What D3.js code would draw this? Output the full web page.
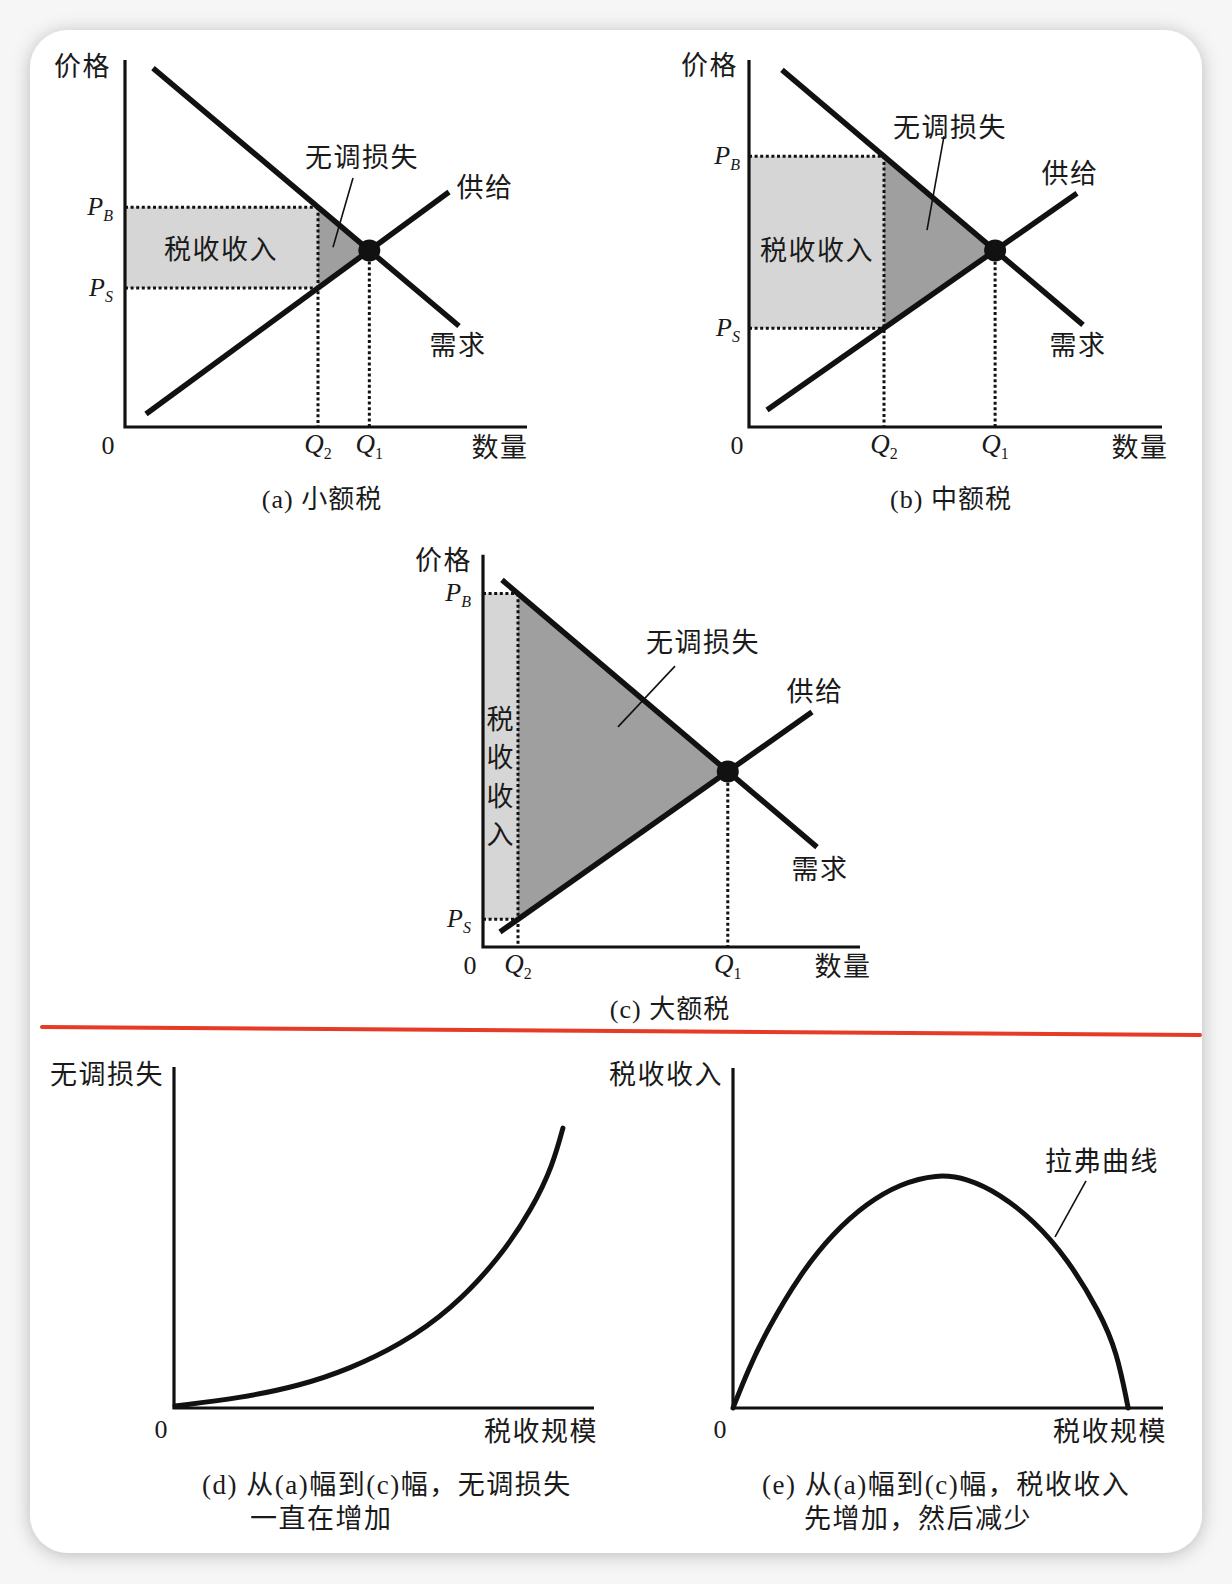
<!DOCTYPE html>
<html><head><meta charset="utf-8">
<script src="https://cdn.jsdelivr.net/npm/d3@7"></script>
<style>
body{margin:0;background:#f6f6f6;}
svg{display:block;}
</style></head><body>
<svg id="chart" width="1232" height="1584"></svg>
<script>
// ---------- DATA (economic units, 0..100) ----------
const captions = ["(a) 小额税", "(b) 中额税", "(c) 大额税"];
const demandA = [[7, 97], [83.5, 27.3]];
const supplyA = [[5.25, 3.5], [81, 63.5]];
const taxQtyA = 48.25;
const demandB = [[8.25, 96.5], [83.5, 27.6]];
const supplyB = [[4.5, 4.6], [82, 63.2]];
const taxQtyB = 33.75;
const demandC = [[4.75, 99.2], [83.5, 27]];
const supplyC = [[4.25, 4.05], [82.25, 63.5]];
const taxQtyC = 8.75;
const leaderA = [[57, 67.3], [52, 48.6]];
const leaderB = [[48.75, 78.6], [44.5, 53.2]];
const leaderC = [[48, 75.9], [33.75, 59.5]];

// (d) deadweight loss vs tax size
const dwlX = [0.24, 15.7, 30, 41.9, 53.8, 65.7, 77.6, 85.5, 90.2, 92.6];
const dwlY = [0.59, 2.9, 6.5, 11.5, 18.5, 28.5, 44, 58.9, 71.3, 82.1];
// (e) Laffer curve: tax revenue vs tax size
const lafX = [0, 3.5, 7.9, 15.6, 23.3, 31.2, 38.8, 47.4, 54.4, 62.1, 69.8, 77.7, 85.3, 89.3, 91.9];
const lafY = [0, 11.2, 22.9, 39.4, 51.5, 60.3, 65.9, 68.8, 67.6, 62.9, 55.3, 44.1, 28.2, 16.5, 0];
const lafLeader = [[82.1, 66.8], [74.9, 50.3]];

const axisLabelsTop = {price: "价格", qty: "数量", dwl: "无调损失", supply: "供给", demand: "需求", revenue: "税收收入"};
const captionD = ["(d) 从(a)幅到(c)幅，无调损失", "一直在增加"];
const captionE = ["(e) 从(a)幅到(c)幅，税收收入", "先增加，然后减少"];
const bottomAxis = {d: "无调损失", e: "税收收入", x: "税收规模", laffer: "拉弗曲线"};

// ---------- STYLE ----------
const MIXED = "'Liberation Serif','Noto Sans CJK SC','Noto Sans CJK JP',serif";
const SERIF = "'Liberation Serif','DejaVu Serif',serif";
const FS = 27;

const svg = d3.select("#chart");
const defs = svg.append("defs");
const flt = defs.append("filter").attr("id", "shadow").attr("x", "-5%").attr("y", "-5%").attr("width", "110%").attr("height", "110%");
flt.append("feDropShadow").attr("dx", 0).attr("dy", 2).attr("stdDeviation", 9).attr("flood-color", "#000").attr("flood-opacity", 0.25);
svg.append("rect").attr("x", 30).attr("y", 30).attr("width", 1172).attr("height", 1523).attr("rx", 38).attr("fill", "#fff").attr("filter", "url(#shadow)");

function mixed(g, x, yc, str, size, anchor, ls) {
  return g.append("text").attr("x", x).attr("y", yc + size * 0.37)
    .attr("font-family", MIXED).attr("font-size", size).attr("text-anchor", anchor || "middle").attr("fill", "#1a1a1a")
    .attr("letter-spacing", ls == null ? 1.5 : ls).text(str);
}
function subLabel(g, x, yc, main, sub, subItalic, anchor, size) {
  size = size || 26;
  const t = g.append("text").attr("x", x).attr("y", yc + size * 0.3)
    .attr("font-family", SERIF).attr("font-size", size).attr("text-anchor", anchor).attr("fill", "#1a1a1a");
  t.append("tspan").attr("font-style", "italic").text(main);
  t.append("tspan").attr("font-size", 16).attr("dy", 6).attr("font-style", subItalic ? "italic" : "normal").text(sub);
}
function lineAt(l, x) { const [[x1, y1], [x2, y2]] = l; return y1 + (y2 - y1) * (x - x1) / (x2 - x1); }
function intersect(d, s) {
  const md = (d[1][1] - d[0][1]) / (d[1][0] - d[0][0]);
  const ms = (s[1][1] - s[0][1]) / (s[1][0] - s[0][0]);
  const x = (s[0][1] - ms * s[0][0] - d[0][1] + md * d[0][0]) / (md - ms);
  return [x, lineAt(d, x)];
}

const panels = [
  {demand: demandA, supply: supplyA, q2: taxQtyA, leader: leaderA, ox: 125, oy: 427, yMax: 99.2, xMax: 100.5,
   lab: {price: [111, 66], dwl: [362, 157], supply: [485, 187], demand: [458, 345], revenue: [221, 249], zero: [108, 445], qty: [500, 447], cap: [322, 498], pEnd: 113, qY: 445}},
  {demand: demandB, supply: supplyB, q2: taxQtyB, leader: leaderB, ox: 749, oy: 427, yMax: 99.2, xMax: 103.25,
   lab: {price: [738, 65], dwl: [950, 127], supply: [1070, 173], demand: [1078, 345], revenue: [817, 250], zero: [737, 445], qty: [1140, 447], cap: [951, 498], pEnd: 740, qY: 445}},
  {demand: demandC, supply: supplyC, q2: taxQtyC, leader: leaderC, ox: 483, oy: 947, yMax: 106, xMax: 94.25, vertical: true,
   lab: {price: [472, 560], dwl: [703, 642], supply: [815, 691], demand: [820, 869], revenue: [500, 719], zero: [470, 965], qty: [843, 966], cap: [670, 1008], pEnd: 471, qY: 965}}
];

const line = d3.line();
panels.forEach((p, i) => {
  const g = svg.append("g");
  const x = d3.scaleLinear().domain([0, 100]).range([p.ox, p.ox + 400]);
  const y = d3.scaleLinear().domain([0, 100]).range([p.oy, p.oy - 370]);
  const pb = lineAt(p.demand, p.q2), ps = lineAt(p.supply, p.q2);
  const eq = intersect(p.demand, p.supply);
  // fills
  g.append("path").attr("d", line([[0, ps], [p.q2, ps], [p.q2, pb], [0, pb]].map(d => [x(d[0]), y(d[1])])))
    .attr("fill", "#d6d6d6");
  g.append("path").attr("d", line([[p.q2, pb], [p.q2, ps], eq].map(d => [x(d[0]), y(d[1])])))
    .attr("fill", "#9f9f9f");
  // dotted guides
  const dots = [[[0, pb], [p.q2, pb]], [[0, ps], [p.q2, ps]], [[p.q2, pb], [p.q2, 0]], [[eq[0], eq[1]], [eq[0], 0]]];
  dots.forEach(seg => g.append("path").attr("d", line(seg.map(d => [x(d[0]), y(d[1])])))
    .attr("stroke", "#111").attr("stroke-width", 3).attr("stroke-dasharray", "3 2.6").attr("fill", "none"));
  // curves
  [p.demand, p.supply].forEach(l => g.append("path").attr("d", line(l.map(d => [x(d[0]), y(d[1])])))
    .attr("stroke", "#111").attr("stroke-width", 5.5).attr("fill", "none"));
  // axes
  g.append("path").attr("d", line([[0, p.yMax], [0, 0], [p.xMax, 0]].map(d => [x(d[0]), y(d[1])])))
    .attr("stroke", "#111").attr("stroke-width", 3.2).attr("fill", "none");
  // equilibrium
  g.append("circle").attr("cx", x(eq[0])).attr("cy", y(eq[1])).attr("r", 11).attr("fill", "#111");
  // leader
  g.append("path").attr("d", line(p.leader.map(d => [x(d[0]), y(d[1])])))
    .attr("stroke", "#111").attr("stroke-width", 1.6).attr("fill", "none");
  // labels
  const L = p.lab;
  mixed(g, L.price[0], L.price[1], axisLabelsTop.price, FS, "end");
  mixed(g, L.dwl[0], L.dwl[1], axisLabelsTop.dwl, FS, "middle");
  mixed(g, L.supply[0], L.supply[1], axisLabelsTop.supply, FS, "middle");
  mixed(g, L.demand[0], L.demand[1], axisLabelsTop.demand, FS, "middle");
  if (p.vertical) {
    Array.from(axisLabelsTop.revenue).forEach((ch, k) => mixed(g, L.revenue[0], L.revenue[1] + k * 38.5, ch, FS, "middle", 0));
  } else {
    mixed(g, L.revenue[0], L.revenue[1], axisLabelsTop.revenue, FS, "middle");
  }
  mixed(g, L.qty[0], L.qty[1], axisLabelsTop.qty, FS, "middle");
  g.append("text").attr("x", L.zero[0]).attr("y", L.zero[1] + 9).attr("font-family", SERIF).attr("font-size", 26)
    .attr("text-anchor", "middle").attr("fill", "#1a1a1a").text("0");
  subLabel(g, L.pEnd, y(pb), "P", "B", true, "end");
  subLabel(g, L.pEnd, y(ps), "P", "S", true, "end");
  subLabel(g, x(p.q2), L.qY, "Q", "2", false, "middle", 27);
  subLabel(g, x(eq[0]), L.qY, "Q", "1", false, "middle", 27);
  mixed(g, L.cap[0], L.cap[1], captions[i], 26, "middle", 1);
});

// red divider
svg.append("line").attr("x1", 42).attr("y1", 1027).attr("x2", 1200).attr("y2", 1035)
  .attr("stroke", "#e63b27").attr("stroke-width", 4).attr("stroke-linecap", "round");

// ---------- panels d and e ----------
function curvePanel(cfg) {
  const g = svg.append("g");
  const x = d3.scaleLinear().domain([0, 100]).range([cfg.ox, cfg.xEnd]);
  const y = d3.scaleLinear().domain([0, 100]).range([cfg.oy, cfg.yTop]);
  g.append("path").attr("d", line([[0, 100], [0, 0], [100, 0]].map(d => [x(d[0]), y(d[1])])))
    .attr("stroke", "#111").attr("stroke-width", 3.2).attr("fill", "none");
  const pts = cfg.xs.map((v, k) => [v, cfg.ys[k]]);
  g.append("path").attr("d", d3.line().x(d => x(d[0])).y(d => y(d[1])).curve(d3.curveBasis)(pts))
    .attr("stroke", "#111").attr("stroke-width", 5).attr("fill", "none").attr("stroke-linecap", "round");
  if (cfg.leader) g.append("path").attr("d", line(cfg.leader.map(d => [x(d[0]), y(d[1])])))
    .attr("stroke", "#111").attr("stroke-width", 1.6).attr("fill", "none");
  mixed(g, cfg.ox - 10, 1074, cfg.ylab, FS, "end");
  mixed(g, cfg.xEnd + 4, 1431, bottomAxis.x, FS, "end");
  g.append("text").attr("x", cfg.ox - 13).attr("y", 1429 + 9).attr("font-family", SERIF).attr("font-size", 26)
    .attr("text-anchor", "middle").attr("fill", "#1a1a1a").text("0");
  mixed(g, cfg.cap1x, 1484, cfg.cap[0], FS, "start", 1.5);
  mixed(g, cfg.cap2x, 1518, cfg.cap[1], FS, "start", 1.5);
  return g;
}
curvePanel({ox: 174, oy: 1408, xEnd: 594, yTop: 1067, xs: dwlX, ys: dwlY, ylab: bottomAxis.d, cap: captionD, cap1x: 202, cap2x: 250});
const ge = curvePanel({ox: 733, oy: 1408, xEnd: 1163, yTop: 1068, xs: lafX, ys: lafY, ylab: bottomAxis.e, cap: captionE, cap1x: 762, cap2x: 804, leader: lafLeader});
mixed(ge, 1102, 1161, bottomAxis.laffer, FS, "middle");
</script>
</body></html>
